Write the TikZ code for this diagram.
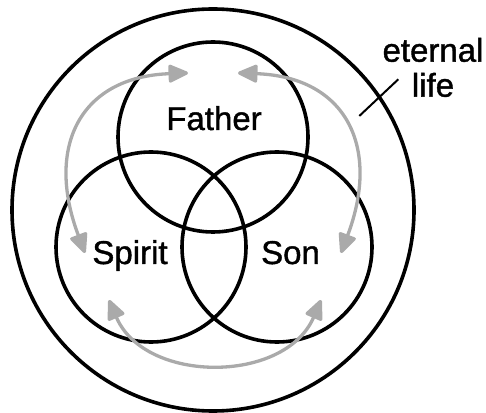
\documentclass[tikz,border=0pt]{standalone}
\usepackage{fontspec}
\setmainfont{Liberation Sans}
\newfontfamily\lblfont[BoldFont={Liberation Sans}, BoldFeatures={FakeBold=1.2}]{Liberation Sans}
\usetikzlibrary{arrows.meta}
\definecolor{arrowgray}{RGB}{170,170,170}
\tikzset{
  ring/.style={circle, draw=black, line width=3.6pt, inner sep=0pt},
  label/.style={font=\lblfont\bfseries\fontsize{33}{35}\selectfont, inner sep=0pt, anchor=base},
  garrow/.style={draw=arrowgray, line width=3.3pt, {Triangle[round,length=22pt,width=19pt]}-{Triangle[round,length=22pt,width=19pt]}},
}
\begin{document}
\begin{tikzpicture}[x=1pt,y=1pt]
\useasboundingbox (0,0) rectangle (486,412);
% circles
\node[ring, minimum size=402pt] (outer) at (213,202) {};
\node[ring, minimum size=190pt] (father) at (213,275) {};
\node[ring, minimum size=190pt] (spirit) at (151,165) {};
\node[ring, minimum size=190pt] (son) at (277,165) {};
% labels
\node[label] (tf) at (214,282) {Father};
\node[label] (ts) at (130,148) {Spirit};
\node[label] (tn) at (290.5,148) {Son};
\node[label] (te) at (433,350.3) {eternal};
\node[label] (tl) at (433,315.3) {life};
% leader
\coordinate (l1) at (359.3,296);
\coordinate (l2) at (398.3,332.7);
\draw[line width=2pt] (l1) -- (l2);
% gray arrows
\coordinate (a1) at (85,159);
\coordinate (a2) at (188,339);
\coordinate (b1) at (341,159);
\coordinate (b2) at (238,339);
\coordinate (c1) at (109,112);
\coordinate (c2) at (321,112);
\draw[garrow] (a1) .. controls (45,265) and (80,335) .. (a2);
\draw[garrow] (b1) .. controls (381,265) and (346,335) .. (b2);
\draw[garrow] (c1) .. controls (145,28) and (285,28) .. (c2);
\end{tikzpicture}
\end{document}
